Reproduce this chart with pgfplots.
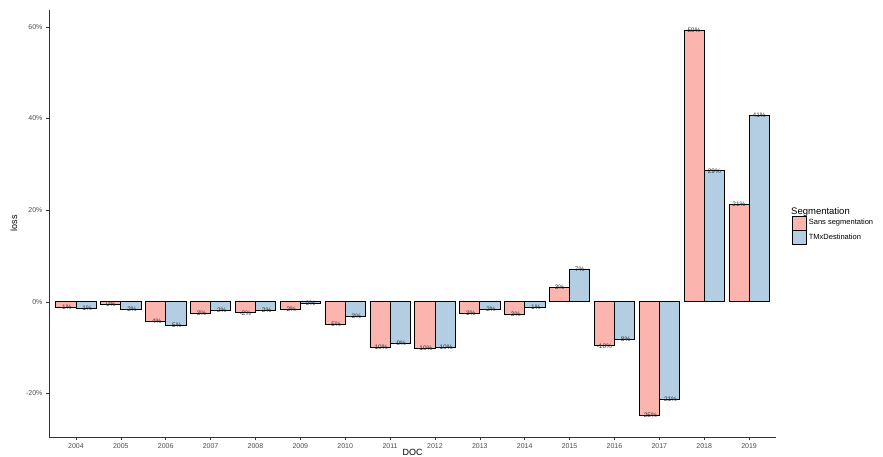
\documentclass[border=0pt]{standalone}
\usepackage{pgfplots}
\pgfplotsset{compat=1.18}
\usepackage{pgfplotstable}
\usepackage{fontspec}
\setmainfont{Liberation Sans}
\definecolor{cred}{HTML}{FBB4AE}
\definecolor{cblue}{HTML}{B3CDE3}
\definecolor{tickg}{HTML}{4D4D4D}
\definecolor{axg}{HTML}{333333}

\pgfplotstableread{
x y lab
0 -1.15 -1
1 -0.45 0
2 -4.2 -4
3 -2.6 -3
4 -2.4 -2
5 -1.7 -2
6 -4.9 -5
7 -10.0 -10
8 -10.2 -10
9 -2.6 -3
10 -2.8 -3
11 3.2 3
12 -9.6 -10
13 -24.8 -25
14 59.3 59
15 21.3 21
}\sans

\pgfplotstableread{
x y lab
0 -1.4 -1
1 -1.7 -2
2 -5.1 -5
3 -1.8 -2
4 -1.8 -2
5 -0.3 0
6 -3.1 -3
7 -9.0 -9
8 -10.0 -10
9 -1.7 -2
10 -1.2 -1
11 7.2 7
12 -8.2 -8
13 -21.2 -21
14 28.6 29
15 40.7 41
}\tmx

\begin{document}
\begin{tikzpicture}
\begin{axis}[
  at={(0,0)}, anchor=south west,
  scale only axis, width=727pt, height=427pt,
  xmin=-0.6, xmax=15.6, ymin=-29.5, ymax=63.7,
  axis x line*=bottom, axis y line*=left,
  axis line style={draw=axg, line width=0.9pt},
  xtick={0,...,15},
  xticklabels={2004,2005,2006,2007,2008,2009,2010,2011,2012,2013,2014,2015,2016,2017,2018,2019},
  ytick={-20,0,20,40,60},
  yticklabel={\pgfmathprintnumber{\tick}\%},
  /pgf/number format/assume math mode=true,
  tick align=outside, major tick length=3pt,
  tick style={draw=axg, line width=0.6pt},
  tick label style={font=\fontsize{7}{8}\selectfont, text=tickg},
  xlabel={DOC}, ylabel={loss},
  label style={font=\fontsize{9}{10}\selectfont},
  xlabel style={yshift=6pt},
  ylabel style={yshift=2pt},
  clip=false,
  legend style={at={(1.022,0.519)}, anchor=north west, draw=none, fill=none,
    inner sep=0pt, row sep=0pt, font=\fontsize{7.5}{9}\selectfont,
    cells={anchor=west},
    /tikz/every even column/.append style={column sep=5pt}},
  legend image code/.code={\draw[#1] (0pt,-7pt) rectangle (14pt,7pt);},
  point meta=explicit symbolic,
  nodes near coords={\pgfplotspointmeta\%},
  every node near coord/.append style={anchor=center, font=\fontsize{6.5}{7}\selectfont, text=axg, inner sep=0pt},
]
\addplot[ybar, bar width=0.45, bar shift=-0.225, fill=cred, draw=black, line width=0.7pt,
  every node near coord/.append style={xshift=-10.1pt}]
  table[x=x, y=y, meta=lab] {\sans};
\addlegendentry{Sans segmentation}
\addplot[ybar, bar width=0.45, bar shift=0.225, fill=cblue, draw=black, line width=0.7pt,
  every node near coord/.append style={xshift=10.1pt}]
  table[x=x, y=y, meta=lab] {\tmx};
\addlegendentry{TMxDestination}
\node[anchor=west, font=\fontsize{9.5}{11}\selectfont, inner sep=0pt] at (rel axis cs:1.0206,0.527) {Segmentation};
\end{axis}
\pgfresetboundingbox
\path[use as bounding box] (-49pt,-20pt) rectangle (834pt,437pt);
\end{tikzpicture}
\end{document}
